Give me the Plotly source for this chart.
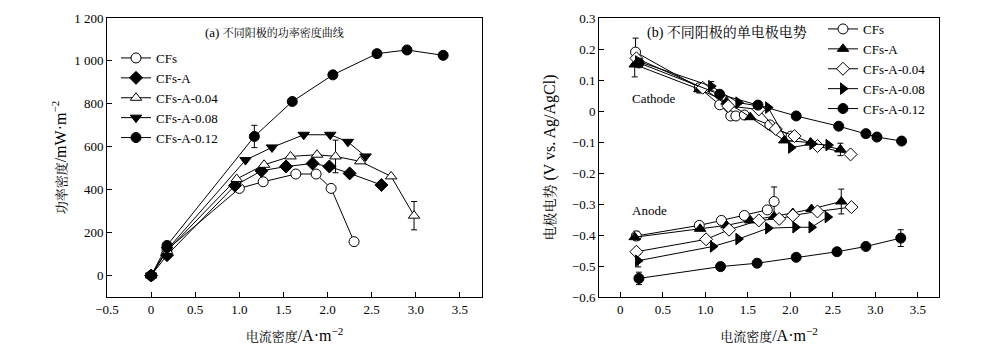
import plotly.graph_objects as go

# ---------------- (a) power density ----------------
p_cfs_x = [0, 0.18, 1.0, 1.27, 1.64, 1.87, 2.04, 2.30]
p_cfs_y = [0, 120, 406, 437, 473, 473, 406, 158]
p_cfs_e = [12, 0, 0, 12, 12, 12, 0, 12]

p_a_x = [0, 0.18, 0.95, 1.25, 1.53, 1.83, 2.02, 2.25, 2.61]
p_a_y = [0, 95, 419, 488, 508, 522, 508, 476, 422]

p_a004_x = [0, 0.18, 0.97, 1.28, 1.58, 1.88, 2.09, 2.37, 2.72, 2.98]
p_a004_y = [0, 115, 450, 516, 555, 563, 555, 532, 462, 279]
p_a004_e = [0, 0, 0, 0, 0, 0, 76, 0, 0, 66]

p_a008_x = [0, 0.18, 1.07, 1.37, 1.73, 2.03, 2.23, 2.43]
p_a008_y = [0, 120, 538, 597, 656, 656, 623, 555]

p_a012_x = [0, 0.18, 1.17, 1.60, 2.06, 2.56, 2.90, 3.31]
p_a012_y = [0, 140, 648, 811, 935, 1034, 1051, 1026]
p_a012_e = [0, 0, 52, 0, 0, 0, 0, 0]

# ---------------- (b) electrode potentials ----------------
c_cfs_x = [0.18, 0.93, 1.17, 1.30, 1.36, 1.46, 1.76, 2.01]
c_cfs_y = [0.19, 0.075, 0.02, -0.016, -0.016, -0.013, -0.045, -0.081]
c_cfs_e = [0.045, 0.012, 0, 0, 0, 0, 0, 0]
c_a_x = [0.17, 0.93, 1.25, 1.53, 1.93, 2.24, 2.59]
c_a_y = [0.15, 0.07, 0.03, -0.02, -0.095, -0.102, -0.124]
c_a_e = [0.04, 0.012, 0, 0, 0, 0, 0.02]
c_a004_x = [0.19, 0.97, 1.27, 1.63, 1.83, 2.05, 2.32, 2.71]
c_a004_y = [0.17, 0.075, 0.016, 0.005, -0.058, -0.081, -0.113, -0.140]
c_a008_x = [0.21, 1.07, 1.39, 1.74, 2.01, 2.26, 2.45]
c_a008_y = [0.16, 0.08, 0.027, 0.011, -0.118, -0.106, -0.110]
c_a008_e = [0, 0.015, 0, 0, 0, 0, 0]
c_a012_x = [0.22, 1.17, 1.62, 2.07, 2.57, 2.89, 3.02, 3.31]
c_a012_y = [0.155, 0.054, 0.019, -0.016, -0.049, -0.073, -0.084, -0.097]

a_cfs_x = [0.19, 0.93, 1.19, 1.46, 1.73, 1.81]
a_cfs_y = [-0.403, -0.369, -0.353, -0.337, -0.319, -0.292]
a_cfs_e = [0.015, 0, 0, 0, 0, 0.047]
a_a_x = [0.17, 0.94, 1.25, 1.53, 1.81, 2.03, 2.25, 2.60]
a_a_y = [-0.407, -0.380, -0.369, -0.353, -0.340, -0.329, -0.316, -0.292]
a_a_e = [0, 0, 0, 0, 0, 0, 0, 0.04]
a_a004_x = [0.19, 1.01, 1.28, 1.63, 1.87, 2.03, 2.32, 2.72]
a_a004_y = [-0.454, -0.414, -0.383, -0.353, -0.348, -0.337, -0.324, -0.310]
a_a008_x = [0.21, 1.09, 1.39, 1.74, 2.06, 2.25, 2.44]
a_a008_y = [-0.483, -0.437, -0.413, -0.378, -0.375, -0.375, -0.342]
a_a008_e = [0.02, 0, 0, 0, 0, 0, 0]
a_a012_x = [0.22, 1.18, 1.61, 2.07, 2.55, 2.89, 3.30]
a_a012_y = [-0.540, -0.502, -0.491, -0.472, -0.454, -0.437, -0.410]
a_a012_e = [0.02, 0, 0, 0, 0, 0, 0.027]

names = ["CFs", "CFs-A", "CFs-A-0.04", "CFs-A-0.08", "CFs-A-0.12"]

x_ticks_a = [-0.5, 0, 0.5, 1.0, 1.5, 2.0, 2.5, 3.0, 3.5]
x_ticks_a_text = ["−0.5", "0", "0.5", "1.0", "1.5", "2.0", "2.5", "3.0", "3.5"]
y_ticks_a = [0, 200, 400, 600, 800, 1000, 1200]
y_ticks_a_text = ["0", "200", "400", "600", "800", "1 000", "1 200"]
x_ticks_b = [0, 0.5, 1.0, 1.5, 2.0, 2.5, 3.0, 3.5]
x_ticks_b_text = ["0", "0.5", "1.0", "1.5", "2.0", "2.5", "3.0", "3.5"]
y_ticks_b = [0.3, 0.2, 0.1, 0, -0.1, -0.2, -0.3, -0.4, -0.5, -0.6]
y_ticks_b_text = ["0.3", "0.2", "0.1", "0", "−0.1", "−0.2", "−0.3", "−0.4", "−0.5", "−0.6"]

FONT = "'Liberation Serif', 'Times New Roman', 'Noto Serif CJK SC', 'Noto Sans CJK SC', serif"

fig = go.Figure()


def mk(symbol, filled):
    return dict(symbol=symbol, size=10,
                color="black" if filled else "white",
                line=dict(color="black", width=1))


def err_trace(x, y, e, xa, ya, w=3):
    xs = [xi for xi, ei in zip(x, e) if ei > 0]
    ys = [yi for yi, ei in zip(y, e) if ei > 0]
    es = [ei for ei in e if ei > 0]
    fig.add_trace(go.Scatter(x=xs, y=ys, mode="markers", xaxis=xa, yaxis=ya,
                             marker=dict(size=2, color="rgba(0,0,0,0)"),
                             error_y=dict(type="data", array=es, color="black",
                                          thickness=1, width=w),
                             showlegend=False, hoverinfo="skip"))


# error bars (a)
err_trace(p_cfs_x, p_cfs_y, p_cfs_e, "x", "y")
err_trace(p_a004_x, p_a004_y, p_a004_e, "x", "y")
err_trace(p_a012_x, p_a012_y, p_a012_e, "x", "y")
# error bars (b)
err_trace(c_cfs_x, c_cfs_y, c_cfs_e, "x2", "y2")
err_trace(c_a_x, c_a_y, c_a_e, "x2", "y2")
err_trace(c_a008_x, c_a008_y, c_a008_e, "x2", "y2")
err_trace(a_cfs_x, a_cfs_y, a_cfs_e, "x2", "y2")
err_trace(a_a_x, a_a_y, a_a_e, "x2", "y2")
err_trace(a_a008_x, a_a008_y, a_a008_e, "x2", "y2")
err_trace(a_a012_x, a_a012_y, a_a012_e, "x2", "y2")

# (a) series
series_a = [
    (p_cfs_x, p_cfs_y, mk("circle", False)),
    (p_a_x, p_a_y, mk("diamond", True)),
    (p_a004_x, p_a004_y, mk("triangle-up", False)),
    (p_a008_x, p_a008_y, mk("triangle-down", True)),
    (p_a012_x, p_a012_y, mk("circle", True)),
]
for i, (x, y, m) in enumerate(series_a):
    fig.add_trace(go.Scatter(x=x, y=y, mode="lines+markers", name=names[i],
                             line=dict(color="black", width=1), marker=m,
                             xaxis="x", yaxis="y", legend="legend"))

# (b) series
series_b = [
    (c_cfs_x, c_cfs_y, a_cfs_x, a_cfs_y, mk("circle", False)),
    (c_a_x, c_a_y, a_a_x, a_a_y, mk("triangle-up", True)),
    (c_a004_x, c_a004_y, a_a004_x, a_a004_y, mk("diamond", False)),
    (c_a008_x, c_a008_y, a_a008_x, a_a008_y, mk("triangle-right", True)),
    (c_a012_x, c_a012_y, a_a012_x, a_a012_y, mk("circle", True)),
]
for i, (cx, cy, ax_, ay, m) in enumerate(series_b):
    fig.add_trace(go.Scatter(x=cx, y=cy, mode="lines+markers", name=names[i],
                             line=dict(color="black", width=1), marker=m,
                             xaxis="x2", yaxis="y2", legend="legend2",
                             legendgroup="b%d" % i))
    fig.add_trace(go.Scatter(x=ax_, y=ay, mode="lines+markers", name=names[i],
                             line=dict(color="black", width=1), marker=m,
                             xaxis="x2", yaxis="y2", legend="legend2",
                             legendgroup="b%d" % i, showlegend=False))

axis_common = dict(showline=True, linecolor="black", linewidth=1, mirror=True,
                   ticks="inside", ticklen=5, tickcolor="black", showgrid=False,
                   zeroline=False, automargin=False,
                   tickfont=dict(size=13, color="black"))

# the page body has an 8px margin; figure coordinates = reference - 8
W, H = 977, 339
L, T = 99, 10
R = W - 931
B = H - 289
pw = W - L - R
ph = H - T - B


def px_x(p):
    return (p - 8 - L) / pw


def px_y(p):
    return 1 - (p - 8 - T) / ph


def cjk(s, size):
    return "<span style='font-size:%dpx'>%s</span>" % (size, s)


xtitle = cjk("电流密度", 13) + "/A·m<sup>−2</sup>"
ytitle_a = cjk("功率密度", 13) + "/mW·m<sup>−2</sup>"
ytitle_b = cjk("电极电势", 14) + " (V vs. Ag/AgCl)"
title_a = "(a) " + cjk("不同阳极的功率密度曲线", 11)
title_b = "(b) " + cjk("不同阳极的单电极电势", 14)

fig.update_layout(
    width=W, height=H,
    margin=dict(l=L, r=R, t=T, b=B, autoexpand=False),
    paper_bgcolor="white", plot_bgcolor="white",
    font=dict(family=FONT, size=13, color="black"),
    xaxis=dict(domain=[0, px_x(482)], range=[-0.5, 3.75],
               tickvals=x_ticks_a, ticktext=x_ticks_a_text,
               title=dict(text=xtitle, standoff=14),
               **axis_common),
    yaxis=dict(range=[-100, 1200], tickvals=y_ticks_a, ticktext=y_ticks_a_text,
               title=dict(text=ytitle_a, standoff=3),
               **axis_common),
    xaxis2=dict(domain=[px_x(599), 1], range=[-0.25, 3.75], anchor="y2",
                tickvals=x_ticks_b, ticktext=x_ticks_b_text,
                title=dict(text=xtitle, standoff=14),
                **axis_common),
    yaxis2=dict(range=[-0.6, 0.3], anchor="x2", tickvals=y_ticks_b,
                ticktext=y_ticks_b_text,
                title=dict(text=ytitle_b, standoff=12),
                **axis_common),
    legend=dict(x=px_x(116), y=px_y(43), xanchor="left", yanchor="top",
                bgcolor="rgba(0,0,0,0)", font=dict(size=13),
                tracegroupgap=0),
    legend2=dict(x=px_x(823), y=px_y(14), xanchor="left", yanchor="top",
                 bgcolor="rgba(0,0,0,0)", font=dict(size=13),
                 tracegroupgap=0),
    annotations=[
        dict(text=title_a, xref="paper", yref="paper", xanchor="center",
             yanchor="middle", x=px_x(274), y=px_y(33), showarrow=False,
             font=dict(size=13)),
        dict(text=title_b, xref="paper", yref="paper", xanchor="center",
             yanchor="middle", x=px_x(727), y=px_y(33), showarrow=False,
             font=dict(size=14)),
        dict(text="Cathode", xref="x2", yref="y2", x=0.40, y=0.041,
             showarrow=False, font=dict(size=13)),
        dict(text="Anode", xref="x2", yref="y2", x=0.34, y=-0.322,
             showarrow=False, font=dict(size=13)),
    ],
)

fig.write_html("out.html")
